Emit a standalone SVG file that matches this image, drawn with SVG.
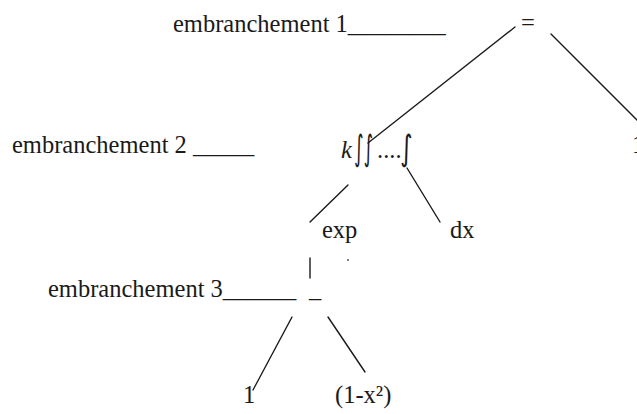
<svg xmlns="http://www.w3.org/2000/svg" width="637" height="414" viewBox="0 0 637 414">
<style>
  .t { font-family: "Liberation Serif", "Times New Roman", serif; font-size: 24.5px; fill: #1a1a1a; }
  .k { font-style: italic; }
  .i { font-family: "DejaVu Sans", sans-serif; font-size: 24px; }
  .e { stroke: #1a1a1a; stroke-width: 1.4; fill: none; stroke-linecap: round; }
</style>
<rect width="637" height="414" fill="#ffffff"/>
<g id="connectors">
  <line class="e" x1="515" y1="27" x2="368" y2="143"/>
  <line class="e" x1="551" y1="34" x2="641" y2="124"/>
  <line class="e" x1="348" y1="185" x2="310" y2="222"/>
  <line class="e" x1="407" y1="168" x2="440" y2="222"/>
  <line class="e" x1="310" y1="258" x2="310" y2="278"/>
  <line class="e" x1="292" y1="317" x2="253" y2="390"/>
  <line class="e" x1="328" y1="317" x2="365" y2="372"/>
</g>
<g id="label-emb1"><text class="t" x="173" y="32">embranchement 1________</text></g>
<g id="label-emb2"><text class="t" x="12" y="153">embranchement 2 _____</text></g>
<g id="label-emb3"><text class="t" x="48" y="297">embranchement 3______</text></g>
<g id="node-eq"><text class="t" x="521" y="31">=</text></g>
<g id="node-integral">
  <text class="t k" x="341" y="158">k</text>
  <text class="t i" transform="translate(354 160) scale(1 1.45)" x="0" y="0" textLength="19" lengthAdjust="spacingAndGlyphs">∫∫</text>
  <text class="t" x="377" y="158">....</text>
  <text class="t i" transform="translate(400 160) scale(1 1.45)" x="0" y="0">∫</text>
</g>
<g id="node-one-right"><text class="t" x="632" y="153">1</text></g>
<g id="node-exp"><text class="t" x="322" y="238">exp</text></g>
<g id="node-dx"><text class="t" x="450" y="238">dx</text></g>
<g id="node-dot"><circle cx="348" cy="260" r="1" fill="#555"/></g>
<g id="node-minus"><text class="t" x="309" y="297">_</text></g>
<g id="node-one"><text class="t" x="243" y="403">1</text></g>
<g id="node-1mx2"><text class="t" x="335" y="403">(1-x²)</text></g>
</svg>
